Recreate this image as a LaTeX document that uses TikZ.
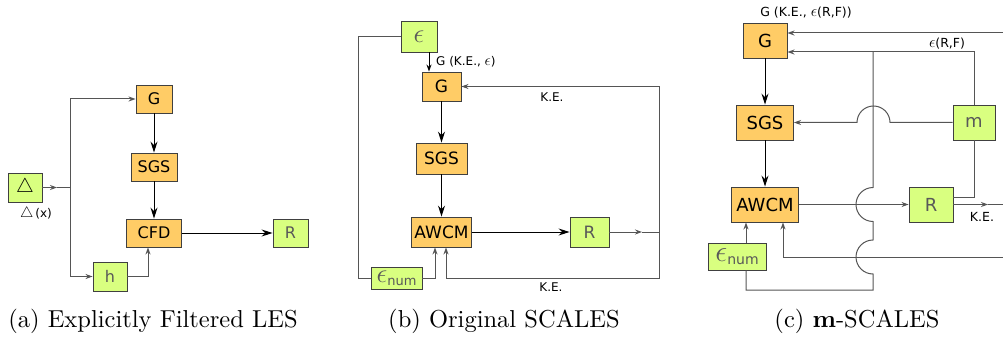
\RequirePackage{fix-cm}
\documentclass[tikz,border=0pt]{standalone}
\usepackage{fontspec}
\newfontfamily\diagfont{DejaVu Sans}
\usetikzlibrary{arrows.meta}
\definecolor{boxorange}{RGB}{255,204,102}
\definecolor{boxgreen}{RGB}{217,255,128}
\definecolor{linegray}{RGB}{85,85,85}
\tikzset{
  orangebox/.style={draw=black!75, fill=boxorange, line width=0.9pt, inner sep=0pt, text=black, font=\diagfont\fontsize{#1}{#1}\selectfont},
  orangebox/.default=16,
  greenbox/.style={draw=black!75, fill=boxgreen, line width=0.9pt, inner sep=0pt, text=black!65, font=\diagfont\fontsize{#1}{#1}\selectfont},
  greenbox/.default=16,
  link/.style={draw=linegray, line width=1pt},
  bigarrow/.style={draw=black, line width=1pt, -{Stealth[length=11pt,width=7pt]}},
  smallarrow/.style={link, -{Stealth[length=7pt,width=5pt]}},
  lbl/.style={font=\diagfont\fontsize{#1}{#1}\selectfont, inner sep=0pt},
  lbl/.default=12,
  caption/.style={font=\fontsize{10}{12}\selectfont, scale=2.45, transform shape, anchor=base, inner sep=0pt}
}
\newcommand{\bigeps}{\scalebox{1.3}{$\epsilon$}}
\begin{document}
\begin{tikzpicture}[x=1pt,y=-1pt] %pixel grid, y downwards
\useasboundingbox (0,0) rectangle (1003,339);
	%(a) filtered LES
\node[greenbox=20, text=black, minimum width=34, minimum height=29] (deltaa) at (25,187.5) {$\triangle$};
\node[lbl] (deltalbl) at (36,214) {{\fontsize{15}{15}\selectfont$\triangle$}\,(x)};
\node[orangebox, minimum width=36, minimum height=28] (ga) at (154,99) {G};
\node[orangebox, minimum width=46, minimum height=28] (sgsa) at (154,167) {SGS};
\node[orangebox, minimum width=55, minimum height=28] (cfda) at (154,233) {CFD};
\node[greenbox, minimum width=35, minimum height=28] (ra) at (290.5,233) {R};
\node[greenbox, minimum width=34, minimum height=29] (ha) at (110,276.5) {h};
\coordinate (deltamid) at (57,187.5);
\coordinate (splita) at (70,187.5);
\draw[smallarrow] (deltaa.east) -- (deltamid);
\draw[link] (deltamid) -- (splita);
\draw[smallarrow] (splita) |- (ga.west);
\draw[smallarrow] (splita) |- (ha.west);
\draw[bigarrow] (ga) -- (sgsa);
\draw[bigarrow] (sgsa) -- (cfda);
\draw[bigarrow] (cfda) -- (ra);
\draw[smallarrow] (ha.east) -| ([xshift=-6]cfda.south);
	%(b) original SCALES
\node[greenbox=27, minimum width=36, minimum height=31] (epsb) at (419,36.5) {$\epsilon$};
\node[orangebox=17, minimum width=39, minimum height=29] (gb) at (441.5,86.5) {G};
\node[orangebox=17, minimum width=51, minimum height=31] (sgsb) at (441.5,158.5) {SGS};
\node[orangebox=17, minimum width=60, minimum height=30] (awcmb) at (441.5,232) {AWCM};
\node[greenbox=17, minimum width=39, minimum height=30] (rb) at (589.5,232) {R};
\node[greenbox=27, minimum width=51, minimum height=22] (epsnumb) at (396.5,278) {$\epsilon$\raisebox{-3pt}{\fontsize{13}{13}\selectfont num}};
\node[lbl, anchor=west] (gblbl) at (436,62) {G (K.E., \bigeps)};
\node[lbl] (keblbl1) at (552,97) {K.E.};
\node[lbl] (keblbl2) at (551,287) {K.E.};
\coordinate (rbmid) at (642,232);
\coordinate (keb) at (659,232);
\coordinate (kebbot) at (659,278);
\coordinate (loopb) at (358,278);
\draw[smallarrow, draw=black] ([xshift=10]epsb.south) -- ([xshift=-12.5]gb.north);
\draw[bigarrow] (gb) -- (sgsb);
\draw[bigarrow] (sgsb) -- (awcmb);
\draw[bigarrow] (awcmb) -- (rb);
\draw[smallarrow] (rb.east) -- (rbmid);
\draw[link] (rbmid) -- (keb);
\draw[smallarrow] (keb) |- (gb.east);
\draw[smallarrow] (keb) -- (kebbot) -| ([xshift=4.5]awcmb.south);
\draw[smallarrow] (epsnumb.east) -| ([xshift=-6.5]awcmb.south);
\draw[link] (epsb.west) -| (loopb) -- (epsnumb.west);
	%(c) m-SCALES
\node[orangebox=18, minimum width=44, minimum height=35] (gc) at (765,40.5) {G};
\node[orangebox=18, minimum width=57, minimum height=35] (sgsc) at (765,122.5) {SGS};
\node[greenbox=18, minimum width=42, minimum height=35] (mc) at (974,122.5) {m};
\node[orangebox=18, minimum width=67, minimum height=35] (awcmc) at (765,204.5) {AWCM};
\node[greenbox=18, minimum width=44, minimum height=35] (rc) at (931,204.5) {R};
\node[greenbox=30, minimum width=58, minimum height=27] (epsnumc) at (737,256.5) {$\epsilon$\raisebox{-3pt}{\fontsize{14}{14}\selectfont num}};
\node[lbl=12.5] (gclbl) at (806,13) {G (K.E., \bigeps(R,F))};
\node[lbl=12.5] (erflbl) at (947,44) {\bigeps(R,F)};
\node[lbl=12.5] (keclbl) at (982,217) {K.E.};
\coordinate (topc) at (1003,33);
\coordinate (jc) at (873,52);
\coordinate (rcmid) at (988,204.5);
\coordinate (rcout) at (1003,204.5);
\coordinate (lowc) at (1003,257);
\draw[smallarrow] (topc) -- (gc.east |- topc);
\draw[smallarrow] (mc.north) |- (gc.east |- jc);
\draw[bigarrow] (gc) -- (sgsc);
\draw[bigarrow] (sgsc) -- (awcmc);
\draw[smallarrow] (mc.west) -- (890,122.5) arc[start angle=0, end angle=-180, radius=16.5] -- (sgsc.east);
\draw[smallarrow] (awcmc) -- (rc);
\draw[smallarrow] (rc.east) -- (rcmid);
\draw[link] (rcmid) -- (rcout);
\draw[link] ([yshift=7.5]rc.east) -| (mc.south);
\draw[smallarrow] (lowc) -| ([xshift=18]awcmc.south);
\draw[smallarrow] ([xshift=9]epsnumc.north) -- ([xshift=-19]awcmc.south);
\draw[link] (jc) -- (873,187.5) arc[start angle=270, end angle=90, radius=17] -- (873,240) arc[start angle=270, end angle=90, radius=17] -- (873,290) -| ([xshift=9]epsnumc.south);
	%captions
\node[caption] (capa) at (153,327) {(a) Explicitly Filtered LES};
\node[caption] (capb) at (504,327) {(b) Original SCALES};
\node[caption] (capc) at (857,327) {(c) \textbf{m}-SCALES};
\end{tikzpicture}
\end{document}
